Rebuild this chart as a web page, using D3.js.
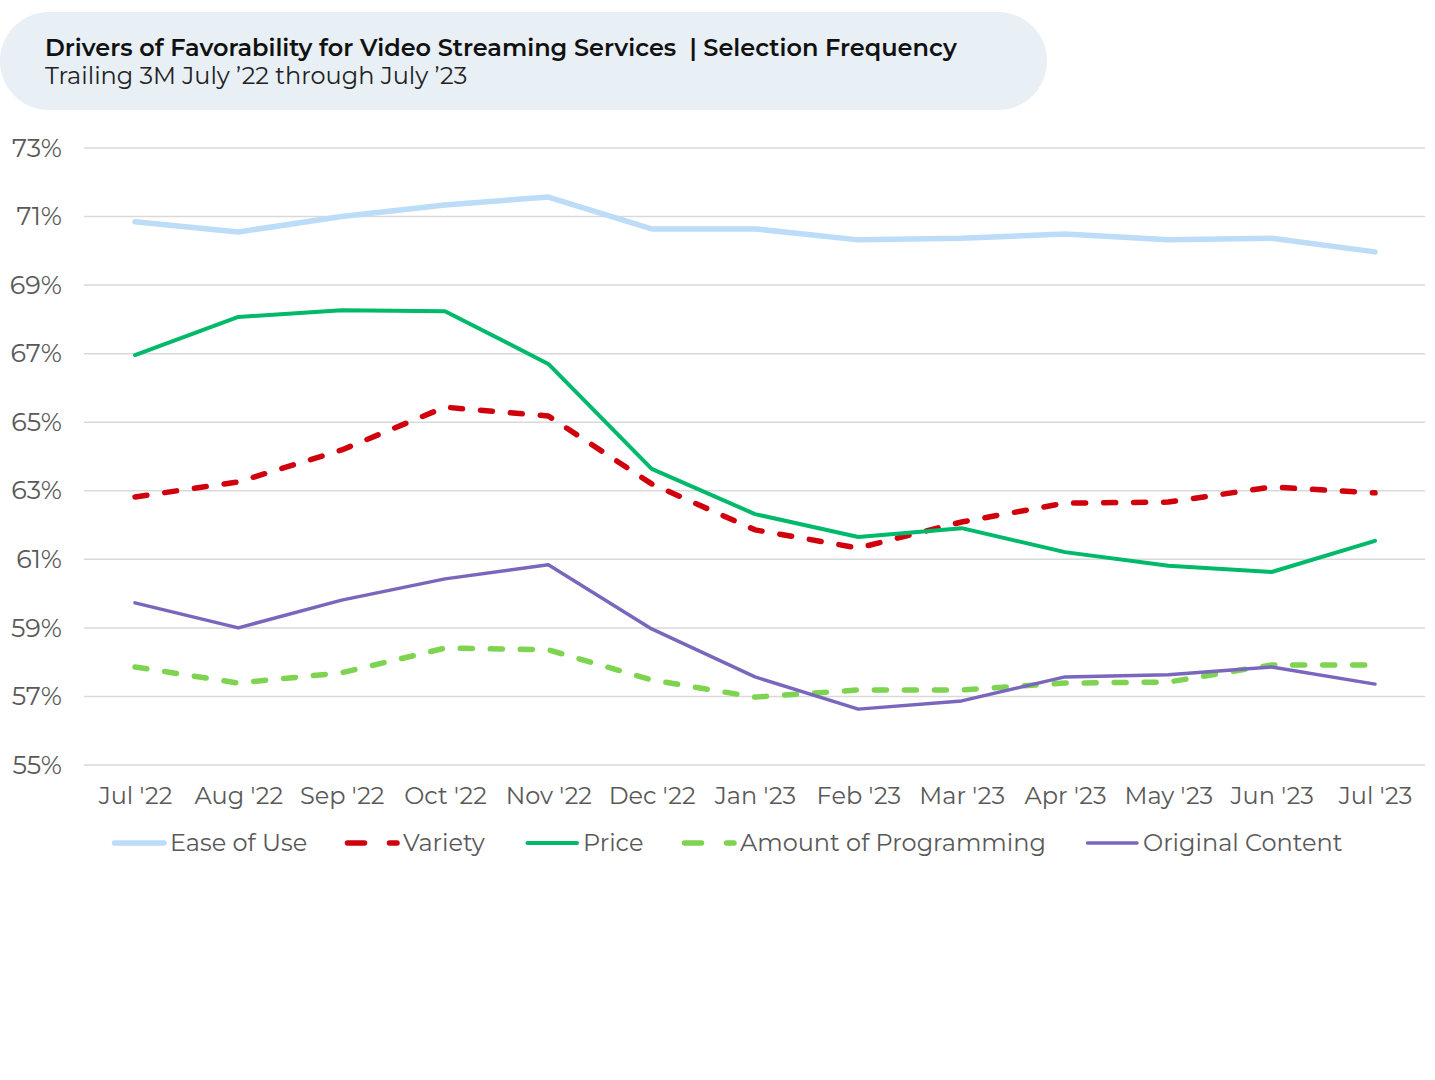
<!DOCTYPE html>
<html><head><meta charset="utf-8">
<script src="https://cdn.jsdelivr.net/npm/d3@7"></script>
<style>
body{margin:0;background:#fff;}
svg{font-family:'Montserrat','Inter','Open Sans',sans-serif;}
</style></head>
<body><svg id="chart" width="1435" height="1080"></svg>
<script>
const months = ["Jul '22","Aug '22","Sep '22","Oct '22","Nov '22","Dec '22","Jan '23","Feb '23","Mar '23","Apr '23","May '23","Jun '23","Jul '23"];
const yTicks = [55,57,59,61,63,65,67,69,71,73];
const easeOfUse = [70.85,70.55,71.0,71.34,71.57,70.64,70.64,70.32,70.37,70.49,70.32,70.37,69.97];
const variety = [62.82,63.26,64.19,65.44,65.18,63.20,61.86,61.33,62.09,62.64,62.67,63.11,62.94];
const price = [66.96,68.07,68.27,68.24,66.70,63.64,62.32,61.65,61.91,61.21,60.81,60.63,61.54];
const amountProg = [57.86,57.39,57.69,58.41,58.36,57.48,56.98,57.19,57.19,57.39,57.42,57.92,57.92];
const originalContent = [59.73,59.00,59.81,60.43,60.84,58.97,57.57,56.63,56.87,57.57,57.63,57.86,57.36];
const seriesNames = ["Ease of Use","Variety","Price","Amount of Programming","Original Content"];

const series = [
  {name:seriesNames[0], values:easeOfUse, color:"#bddcf8", width:5.5, dash:null},
  {name:seriesNames[1], values:variety, color:"#d0000d", width:5.5, dash:"12,18"},
  {name:seriesNames[2], values:price, color:"#00b96b", width:4, dash:null},
  {name:seriesNames[3], values:amountProg, color:"#7ed450", width:5.5, dash:"12,18"},
  {name:seriesNames[4], values:originalContent, color:"#7a66bc", width:3.5, dash:null}
];

const svg = d3.select("#chart");
const FONT = "'Montserrat','Inter','Open Sans',sans-serif";

// Title pill
svg.append("rect").attr("x",0).attr("y",12).attr("width",1047).attr("height",98)
  .attr("rx",49).attr("fill","#e8eff5");
svg.append("text").attr("x",45).attr("y",56).attr("font-size",24).attr("font-weight",600)
  .attr("fill","#111").attr("xml:space","preserve")
  .text("Drivers of Favorability for Video Streaming Services \u00a0| Selection Frequency");
svg.append("text").attr("x",45).attr("y",84).attr("font-size",24).attr("font-weight",400)
  .attr("fill","#222").text("Trailing 3M July \u201922 through July \u201923");

const x = d3.scalePoint().domain(months).range([135,1375]);
const y = d3.scaleLinear().domain([55,73]).range([765,148]);

// grid
svg.append("g").selectAll("line").data(yTicks).join("line")
  .attr("x1",84).attr("x2",1425).attr("y1",d=>y(d)).attr("y2",d=>y(d))
  .attr("stroke","#d9d9d9").attr("stroke-width",1.5);

// y axis
const yAxis = svg.append("g").attr("transform","translate(62,0)")
  .call(d3.axisLeft(y).tickValues(yTicks).tickFormat(d=>d+"%").tickSize(0).tickPadding(0));
yAxis.select(".domain").remove();
yAxis.selectAll("text").attr("font-size",25.5).attr("fill","#595959").attr("font-family",FONT);

// x axis
const xAxis = svg.append("g").attr("transform","translate(0,787)")
  .call(d3.axisBottom(x).tickSize(0).tickPadding(0));
xAxis.select(".domain").remove();
xAxis.selectAll("text").attr("font-size",24).attr("fill","#595959").attr("dy","0.71em").attr("font-family",FONT);

const line = d3.line().x((d,i)=>x(months[i])).y(d=>y(d));

series.forEach(s=>{
  svg.append("path").datum(s.values).attr("d",line)
    .attr("fill","none").attr("stroke",s.color).attr("stroke-width",s.width)
    .attr("stroke-linejoin","round")
    .attr("stroke-linecap","round")
    .attr("stroke-dasharray",s.dash);
});

// legend
const legendX = [112,345,525,682,1085];
const lg = svg.append("g").attr("transform","translate(0,843)");
series.forEach((s,i)=>{
  const g = lg.append("g").attr("transform",`translate(${legendX[i]},0)`);
  g.append("line").attr("x1",2.5).attr("x2",52).attr("y1",0).attr("y2",0)
    .attr("stroke",s.color).attr("stroke-width",s.width)
    .attr("stroke-linecap","round")
    .attr("stroke-dasharray",s.dash?"17,25":null);
  g.append("text").attr("x",58).attr("y",0).attr("dy","0.35em").attr("font-size",24)
    .attr("fill","#595959").text(s.name);
});
</script></body></html>
